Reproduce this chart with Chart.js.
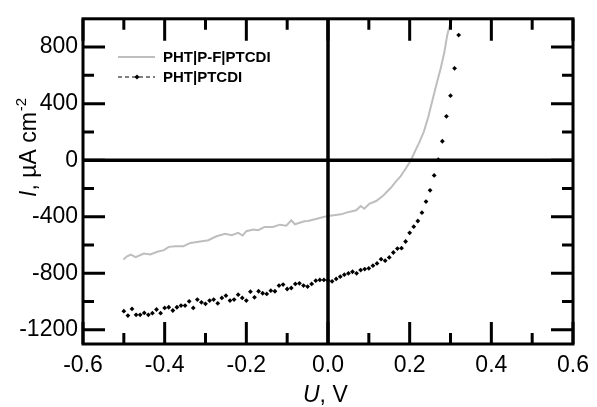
<!DOCTYPE html>
<html><head><meta charset="utf-8">
<script src="https://cdn.jsdelivr.net/npm/chart.js@4"></script>
<style>html,body{margin:0;padding:0;background:#fff}#wrap{width:597px;height:407px;position:relative}</style>
</head><body><div id="wrap"><canvas id="c" width="597" height="407"></canvas></div>
<script>
const seriesNames = ['PHT|P-F|PTCDI', 'PHT|PTCDI'];

const grayU = [-0.501,-0.492,-0.483,-0.471,-0.451,-0.435,-0.418,-0.402,-0.390,-0.374,-0.354,-0.337,-0.317,-0.293,-0.273,-0.252,-0.236,-0.220,-0.209,-0.200,-0.183,-0.171,-0.155,-0.135,-0.118,-0.102,-0.090,-0.081,-0.058,-0.049,-0.025,0.000,0.032,0.045,0.069,0.080,0.089,0.101,0.118,0.134,0.146,0.154,0.165,0.178,0.190,0.203,0.215,0.223,0.235,0.245,0.255,0.265,0.276,0.285,0.292,0.298,0.304];
const grayI = [-702,-680,-667,-685,-660,-667,-648,-636,-613,-608,-608,-585,-577,-566,-538,-521,-530,-514,-533,-502,-491,-495,-472,-472,-456,-463,-425,-453,-432,-430,-412,-394,-383,-371,-354,-324,-343,-308,-289,-254,-218,-195,-155,-113,-60,0,75,122,204,300,415,530,650,765,885,950,1007];

const dotU = [-0.50,-0.49,-0.48,-0.47,-0.46,-0.45,-0.44,-0.43,-0.42,-0.41,-0.40,-0.39,-0.38,-0.37,-0.36,-0.35,-0.34,-0.33,-0.32,-0.31,-0.30,-0.29,-0.28,-0.27,-0.26,-0.25,-0.24,-0.23,-0.22,-0.21,-0.20,-0.19,-0.18,-0.17,-0.16,-0.15,-0.14,-0.13,-0.12,-0.11,-0.10,-0.09,-0.08,-0.07,-0.06,-0.05,-0.04,-0.03,-0.02,-0.01,0.00,0.01,0.02,0.03,0.04,0.05,0.06,0.07,0.08,0.09,0.10,0.11,0.12,0.13,0.14,0.15,0.16,0.17,0.18,0.19,0.20,0.21,0.22,0.23,0.24,0.25,0.26,0.27,0.28,0.29,0.30,0.31,0.32];
const dotI = [-1068,-1099,-1052,-1094,-1094,-1080,-1094,-1082,-1056,-1082,-1045,-1040,-1063,-1040,-1028,-1028,-998,-1045,-986,-1005,-1016,-993,-986,-1012,-974,-958,-993,-986,-951,-974,-993,-930,-970,-927,-941,-946,-923,-927,-887,-880,-911,-904,-875,-871,-887,-894,-875,-852,-847,-847,-850,-857,-840,-824,-810,-800,-789,-800,-777,-770,-765,-746,-730,-700,-711,-688,-653,-625,-622,-575,-514,-470,-430,-371,-293,-213,-108,3,134,310,456,650,885];

const xMajorTicks = [-0.6,-0.4,-0.2,0,0.2,0.4,0.6];
const xMinorTicks = [-0.5,-0.3,-0.1,0.1,0.3,0.5];
const yMajorTicks = [-1200,-800,-400,0,400,800];
const yMinorTicks = [-1000,-600,-200,200,600];
const xRange = [-0.6, 0.6];
const yRange = [-1300, 1000];

const FONT = "'Liberation Sans', Arial, sans-serif";

const framePlugin = {
  id: 'frame',
  afterDatasetsDraw(chart) {
    const {ctx, chartArea: a, scales: {x, y}} = chart;
    ctx.save();
    ctx.strokeStyle = '#000';
    ctx.lineCap = 'butt';
    // zero lines
    ctx.lineWidth = 3.5;
    const x0 = x.getPixelForValue(0), y0 = y.getPixelForValue(0);
    ctx.beginPath();
    ctx.moveTo(x0, a.top); ctx.lineTo(x0, a.bottom);
    ctx.moveTo(a.left, y0); ctx.lineTo(a.right, y0);
    ctx.stroke();
    // ticks (inward, all four sides)
    ctx.lineWidth = 3;
    const major = 22, minor = 11;
    ctx.beginPath();
    const xt = (v, L) => { const p = x.getPixelForValue(v);
      ctx.moveTo(p, a.bottom); ctx.lineTo(p, a.bottom - L);
      ctx.moveTo(p, a.top); ctx.lineTo(p, a.top + L); };
    const yt = (v, L) => { const p = y.getPixelForValue(v);
      ctx.moveTo(a.left, p); ctx.lineTo(a.left + L, p);
      ctx.moveTo(a.right, p); ctx.lineTo(a.right - L, p); };
    xMajorTicks.forEach(v => xt(v, major));
    xMinorTicks.forEach(v => xt(v, minor));
    yMajorTicks.forEach(v => yt(v, major));
    yMinorTicks.forEach(v => yt(v, minor));
    ctx.stroke();
    // box
    ctx.lineWidth = 3;
    ctx.strokeRect(a.left, a.top, a.right - a.left, a.bottom - a.top);
    ctx.restore();
  },
  afterDraw(chart) {
    const {ctx} = chart;
    ctx.save();
    ctx.fillStyle = '#000';
    ctx.textBaseline = 'alphabetic';
    // x title
    let xx = 303;
    ctx.font = 'italic 23px ' + FONT;
    ctx.fillText('U', xx, 401.5);
    xx += ctx.measureText('U').width;
    ctx.font = '23px ' + FONT;
    ctx.fillText(', V', xx, 401.5);
    // y title
    ctx.translate(36, 197);
    ctx.rotate(-Math.PI / 2);
    let yy = 0;
    ctx.font = 'italic 23px ' + FONT;
    ctx.fillText('I', yy, 0);
    yy += ctx.measureText('I').width;
    ctx.font = '23px ' + FONT;
    ctx.fillText(', \u00B5A cm', yy, 0);
    yy += ctx.measureText(', \u00B5A cm').width + 1;
    ctx.font = '15px ' + FONT;
    ctx.fillText('-2', yy, -10);
    ctx.restore();

    // legend
    ctx.save();
    ctx.font = 'bold 15px ' + FONT;
    ctx.textBaseline = 'middle';
    ctx.fillStyle = '#000';
    ctx.strokeStyle = 'rgb(190,190,190)';
    ctx.lineWidth = 2;
    ctx.beginPath(); ctx.moveTo(118, 57); ctx.lineTo(155, 57); ctx.stroke();
    ctx.fillText(seriesNames[0], 163, 57.5);
    ctx.strokeStyle = '#000';
    ctx.lineWidth = 1;
    ctx.setLineDash([4, 3]);
    ctx.beginPath(); ctx.moveTo(118, 77); ctx.lineTo(155, 77); ctx.stroke();
    ctx.setLineDash([]);
    ctx.beginPath();
    ctx.moveTo(137, 74.5); ctx.lineTo(139.5, 77); ctx.lineTo(137, 79.5); ctx.lineTo(134.5, 77); ctx.closePath();
    ctx.fill();
    ctx.fillText(seriesNames[1], 163, 77.5);
    ctx.restore();
  }
};

const chart = new Chart(document.getElementById('c'), {
  type: 'scatter',
  data: {
    datasets: [
      {
        label: seriesNames[0],
        data: grayU.map((u, i) => ({x: u, y: grayI[i]})),
        showLine: true,
        borderColor: 'rgb(190,190,190)',
        borderWidth: 2,
        pointRadius: 0,
        tension: 0,
        clip: 0
      },
      {
        label: seriesNames[1],
        data: dotU.map((u, i) => ({x: u, y: dotI[i]})),
        showLine: false,
        pointStyle: 'rectRot',
        pointRadius: 2.4,
        backgroundColor: '#000',
        borderColor: '#000',
        borderWidth: 0,
        clip: 0
      }
    ]
  },
  options: {
    responsive: false,
    devicePixelRatio: 1,
    animation: false,
    layout: {padding: {top: 16, right: 21, left: 0, bottom: 0}},
    plugins: {legend: {display: false}, tooltip: {enabled: false}},
    scales: {
      x: {
        type: 'linear', min: xRange[0], max: xRange[1],
        afterBuildTicks: s => { s.ticks = xMajorTicks.map(v => ({value: v})); },
        afterFit: s => { s.height = 63; },
        grid: {display: false, drawTicks: false},
        border: {display: false},
        ticks: {color: '#000', font: {family: FONT, size: 23}, padding: 8, maxRotation: 0, autoSkip: false,
                callback: v => Number(v).toFixed(1)}
      },
      y: {
        type: 'linear', min: yRange[0], max: yRange[1],
        afterBuildTicks: s => { s.ticks = yMajorTicks.map(v => ({value: v})); },
        afterFit: s => { s.width = 83; },
        grid: {display: false, drawTicks: false},
        border: {display: false},
        ticks: {color: '#000', font: {family: FONT, size: 23}, padding: 5, autoSkip: false,
                callback: v => String(v)}
      }
    }
  },
  plugins: [framePlugin]
});
</script>
</body></html>
